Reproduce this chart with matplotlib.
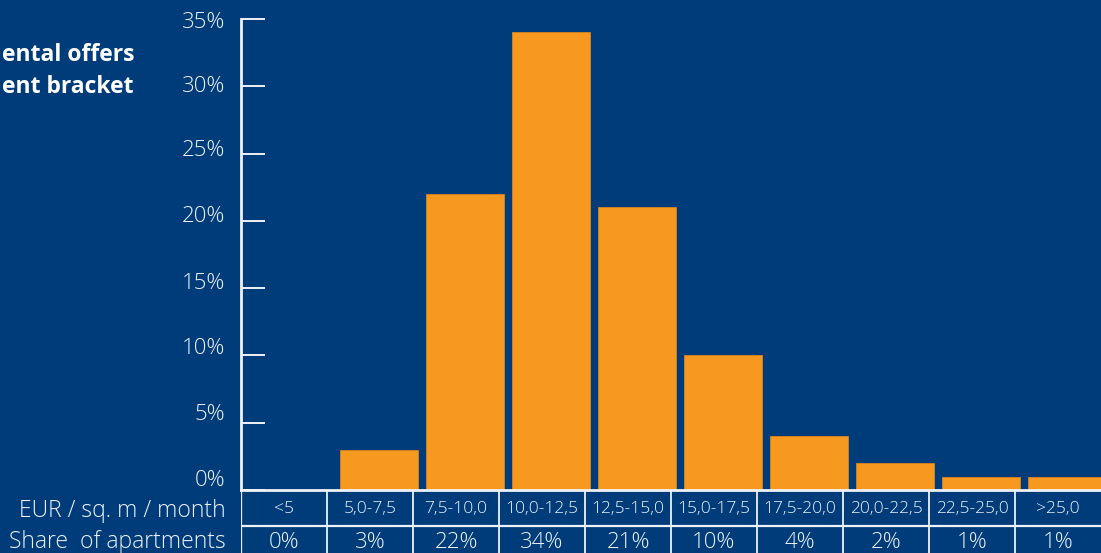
import matplotlib
matplotlib.use("Agg")
import matplotlib.pyplot as plt

# rent brackets (EUR / sq. m / month) and share of apartments (%)
brackets = ["<5", "5,0-7,5", "7,5-10,0", "10,0-12,5", "12,5-15,0",
            "15,0-17,5", "17,5-20,0", "20,0-22,5", "22,5-25,0", ">25,0"]
shares = [0, 3, 22, 34, 21, 10, 4, 2, 1, 1]
y_ticks = [0, 5, 10, 15, 20, 25, 30, 35]
# labels drift a little from their ticks (pixels, up is positive)
label_shift = [10, 8, 7, 5, 4, 3, 0, -3]

BG = "#003c7a"
ORANGE = "#f7981f"
FG = "#eef2f7"

plt.rcParams["font.family"] = ["Open Sans", "DejaVu Sans"]

W, H = 1101, 553
fig = plt.figure(figsize=(W / 100, H / 100), dpi=100, facecolor=BG)

col_px = 86.0
x0 = 241
ax = fig.add_axes([x0 / W, (H - 490) / H, (W - x0) / W, (490 - 19) / H])
ax.set_facecolor(BG)
xmax = (W - x0) / col_px
ax.set_xlim(0, xmax)
ax.set_ylim(0, 35)

xs = [i + 0.6 for i in range(len(shares))]
ax.bar(xs, shares, width=0.905, color=ORANGE, edgecolor="#d9841a",
       linewidth=0.6, zorder=3)

for s in ["top", "right"]:
    ax.spines[s].set_visible(False)
for s in ["left", "bottom"]:
    ax.spines[s].set_color(FG)
    ax.spines[s].set_linewidth(2)
ax.spines["bottom"].set_zorder(4)

ax.set_xticks([])
ax.set_yticks(y_ticks)
ax.tick_params(axis="y", direction="in", length=17, width=1.4, color=FG,
               labelleft=False)
for v, dy in zip(y_ticks, label_shift):
    ax.annotate(f"{v}%", xy=(0, v), xycoords=("axes fraction", "data"),
                xytext=(-16, dy), textcoords="offset pixels", ha="right",
                va="center", color=FG, fontsize=16, fontweight="light",
                annotation_clip=False)

# table under the bars
tab = fig.add_axes([x0 / W, 0, (W - x0) / W, (H - 490) / H])
tab.set_facecolor(BG)
tab.set_xlim(0, xmax)
tab.set_ylim(63, 0)
tab.axis("off")
tab.axhline(36, color=FG, linewidth=1.6)
for k in range(0, len(brackets)):
    tab.axvline(k, color=FG, linewidth=1.6 if k == 0 else 1.3)
for i, (b, s) in enumerate(zip(brackets, shares)):
    tab.text(i + 0.5, 19, b, color=FG, fontsize=12.5, ha="center",
             va="center", fontweight="light")
    tab.text(i + 0.5, 52, f"{s}%", color=FG, fontsize=16, ha="center",
             va="center", fontweight="light")

fig.text(226 / W, 1 - 511 / H, "EUR / sq. m / month", color=FG,
         fontsize=16.5, fontweight="light", ha="right", va="center")
fig.text(226 / W, 1 - 542 / H, "Share  of apartments", color=FG,
         fontsize=16.5, fontweight="light", ha="right", va="center")

fig.text(134 / W, 1 - 55 / H, "ental offers", color="white",
         fontsize=16.5, fontweight="bold", ha="right", va="center")
fig.text(134 / W, 1 - 87 / H, "ent bracket", color="white",
         fontsize=16.5, fontweight="bold", ha="right", va="center")

fig.savefig("out.png", dpi=100, facecolor=BG)
